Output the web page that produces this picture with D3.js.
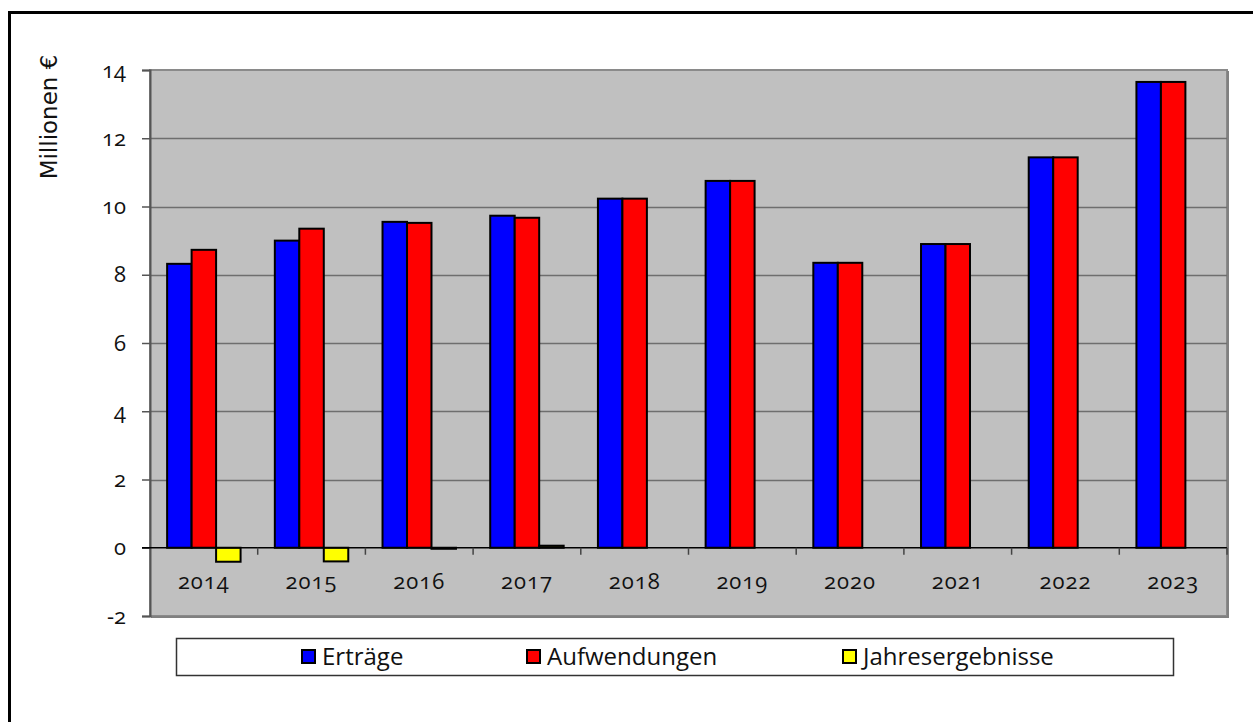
<!DOCTYPE html>
<html>
<head>
<meta charset="utf-8">
<script src="https://cdn.jsdelivr.net/npm/d3@7"></script>
<style>
  body { margin: 0; background: #fff; }
  .num { font-family: "Open Sans", sans-serif; font-feature-settings: "onum" 1; font-variant-numeric: oldstyle-nums; }
</style>
</head>
<body>
<svg id="chart" width="1253" height="722"></svg>
<script>
// data
var years = ["2014", "2015", "2016", "2017", "2018", "2019", "2020", "2021", "2022", "2023"];
var ertraege = [8.32, 9.0, 9.55, 9.73, 10.23, 10.75, 8.35, 8.9, 11.44, 13.65];
var aufwendungen = [8.73, 9.35, 9.52, 9.67, 10.23, 10.75, 8.35, 8.9, 11.44, 13.65];
var jahresergebnisse = [-0.41, -0.40, -0.03, 0.06, 0, 0, 0, 0, 0, 0];
var seriesNames = ["Erträge", "Aufwendungen", "Jahresergebnisse"];
var seriesColors = ["#0000ff", "#ff0000", "#ffff00"];
var yTicks = [-2, 0, 2, 4, 6, 8, 10, 12, 14];

var svg = d3.select("#chart");
var plot = {left: 150, right: 1227, top: 70, bottom: 616};

// outer frame
svg.append("line").attr("x1", 8).attr("x2", 1253).attr("y1", 12.5).attr("y2", 12.5)
  .attr("stroke", "#000").attr("stroke-width", 3);
svg.append("line").attr("x1", 9.5).attr("x2", 9.5).attr("y1", 11).attr("y2", 722)
  .attr("stroke", "#000").attr("stroke-width", 3);

var x = d3.scaleBand().domain(years).range([plot.left, plot.right])
  .paddingInner(0.318).paddingOuter(0.159);
var xs = d3.scaleBand().domain(seriesNames).range([0, x.bandwidth()]);
var y = d3.scaleLinear().domain([-2, 14]).range([plot.bottom, plot.top]);

// plot background
svg.append("rect")
  .attr("x", plot.left).attr("y", plot.top)
  .attr("width", plot.right - plot.left).attr("height", plot.bottom - plot.top)
  .attr("fill", "#c0c0c0").attr("stroke", "#8a8a8a").attr("stroke-width", 2);
// little shadow on right/bottom
svg.append("path")
  .attr("d", "M" + (plot.right + 1) + "," + (plot.top + 1) + "V" + (plot.bottom + 1) + "H" + (plot.left + 1))
  .attr("fill", "none").attr("stroke", "#808080").attr("stroke-width", 2);

// gridlines
svg.append("g").selectAll("line")
  .data(yTicks.filter(function(d) { return d !== 0 && d !== -2 && d !== 14; }))
  .join("line")
  .attr("x1", plot.left).attr("x2", plot.right)
  .attr("y1", function(d) { return Math.round(y(d)) + 0.5; })
  .attr("y2", function(d) { return Math.round(y(d)) + 0.5; })
  .attr("stroke", "#6e6e6e").attr("stroke-width", 1.5);

// y axis
var yAxis = svg.append("g")
  .attr("transform", "translate(" + plot.left + ",0)")
  .call(d3.axisLeft(y).tickValues(yTicks).tickSize(8).tickPadding(16).tickFormat(d3.format("d")));
yAxis.select(".domain").attr("stroke", "#555").attr("stroke-width", 2);
yAxis.selectAll(".tick line").attr("stroke", "#555").attr("stroke-width", 1.5);
yAxis.selectAll(".tick text").attr("class", "num").attr("font-size", 22).attr("fill", "#111")
  .text(function(d) { return d < 0 ? "-" + Math.abs(d) : d; });

svg.append("text")
  .attr("transform", "translate(57,117) rotate(-90)")
  .attr("text-anchor", "middle")
  .attr("font-family", "DejaVu Sans, sans-serif")
  .attr("font-size", 23)
  .attr("fill", "#111")
  .text("Millionen €");

// bars
var seriesData = [ertraege, aufwendungen, jahresergebnisse];
seriesData.forEach(function(vals, si) {
  svg.append("g").selectAll("rect")
    .data(vals.map(function(v, i) { return {year: years[i], v: v}; }).filter(function(d) { return d.v !== 0; }))
    .join("rect")
    .attr("x", function(d) { return x(d.year) + xs(seriesNames[si]); })
    .attr("width", xs.bandwidth())
    .attr("y", function(d) { return y(Math.max(0, d.v)); })
    .attr("height", function(d) { return Math.abs(y(d.v) - y(0)); })
    .attr("fill", seriesColors[si])
    .attr("stroke", "#000")
    .attr("stroke-width", 2);
});

// x axis at zero
var xAxis = svg.append("g")
  .attr("transform", "translate(0," + y(0) + ")")
  .call(d3.axisBottom(x).tickSize(0).tickPadding(26));
xAxis.select(".domain").remove();
xAxis.selectAll(".tick text").attr("class", "num").attr("font-size", 22).attr("fill", "#111")
  .attr("letter-spacing", 1);
svg.append("line")
  .attr("x1", plot.left - 8).attr("x2", plot.right)
  .attr("y1", y(0)).attr("y2", y(0))
  .attr("stroke", "#000").attr("stroke-width", 1.5);
svg.append("g").selectAll("line")
  .data(years.slice(1).concat(["end"]))
  .join("line")
  .attr("x1", function(d, i) { return i < years.length - 1 ? x(d) - x.step() * x.paddingOuter() : plot.right; })
  .attr("x2", function(d, i) { return i < years.length - 1 ? x(d) - x.step() * x.paddingOuter() : plot.right; })
  .attr("y1", y(0)).attr("y2", y(0) + 7)
  .attr("stroke", "#444").attr("stroke-width", 1.5);

// legend
var legend = svg.append("g");
legend.append("rect")
  .attr("x", 176.5).attr("y", 638.5).attr("width", 997).attr("height", 37)
  .attr("fill", "#fff").attr("stroke", "#333").attr("stroke-width", 1.5);
var legendX = [302, 527, 843];
seriesNames.forEach(function(name, i) {
  legend.append("rect")
    .attr("x", legendX[i]).attr("y", 650).attr("width", 13).attr("height", 13)
    .attr("fill", seriesColors[i]).attr("stroke", "#000").attr("stroke-width", 2);
  legend.append("text")
    .attr("x", legendX[i] + 20).attr("y", 665)
    .attr("font-family", "Open Sans, sans-serif")
    .attr("font-size", 24)
    .attr("fill", "#111")
    .text(name);
});
</script>
</body>
</html>
